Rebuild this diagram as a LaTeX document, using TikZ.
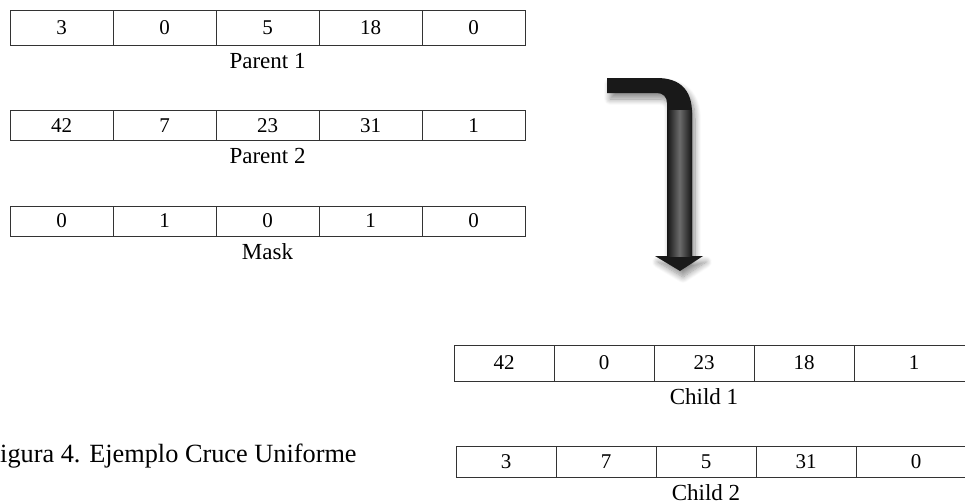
\documentclass[tikz,border=0pt]{standalone}
\usepackage{fontspec}
\setmainfont{Liberation Serif}
\usetikzlibrary{positioning, shadows.blur}
\tikzset{
  cell/.style = {draw=black!80, line width=1pt, inner sep=0, outer sep=0, font=\fontsize{21}{24}\selectfont},
  rowlabel/.style = {inner sep=0, font=\fontsize{23}{27}\selectfont},
  bigarrow/.style = {fill=black!90, blur shadow={shadow xshift=3pt, shadow yshift=-6pt, shadow blur radius=6pt, shadow blur steps=10, shadow opacity=45}},
}

\begin{document}
\begin{tikzpicture}[x=1pt, y=1pt]
  \clip (0,0) rectangle (965,-501);
  % gene rows: name/left/centre/height/cell width/last cell width/genes/label
  \foreach \r/\x/\y/\h/\w/\l/\genes/\lab in {
    pa/10/28/35/103/103/{3,0,5,18,0}/Parent 1,
    pb/10/125.5/30/103/103/{42,7,23,31,1}/Parent 2,
    mask/10/221/30/103/103/{0,1,0,1,0}/Mask,
    ca/454/363/36/100/120/{42,0,23,18,1}/Child 1,
    cb/456/461.5/31/100/120/{3,7,5,31,0}/Child 2%
  }{
    \coordinate (\r0) at (\x,-\y);
    \foreach \g [count=\i, remember=\i as \j (initially 0)] in \genes {
      \pgfmathsetmacro\cw{\i<5 ? \w : \l}
      \node (\r\i) [cell, minimum height=\h, minimum width=\cw, right=0pt of \r\j] {\g};
    }
    \node (lab\r) [rowlabel, anchor=base] at ([yshift=-23pt]\r3.south) {\lab};
  }

  % bent arrow from the parents down to the children
  \path [bigarrow] (607,-78) -- (657,-78) .. controls (680,-78) and (692,-90) .. (692,-113)
    -- (692,-256) -- (703,-256) -- (680,-271) -- (655,-256) -- (667,-256) -- (667,-103)
    .. controls (667,-97) and (663,-93) .. (657,-93) -- (607,-93) -- cycle;
  \shade [left color=black!92, right color=black!92, middle color=black!58] (667,-110) rectangle (692,-256);

  \node (caption) [anchor=base west, inner sep=0, font=\fontsize{26.3}{31}\selectfont] at (-14.6,-462) {Figura 4. Ejemplo Cruce Uniforme};
\end{tikzpicture}
\end{document}
